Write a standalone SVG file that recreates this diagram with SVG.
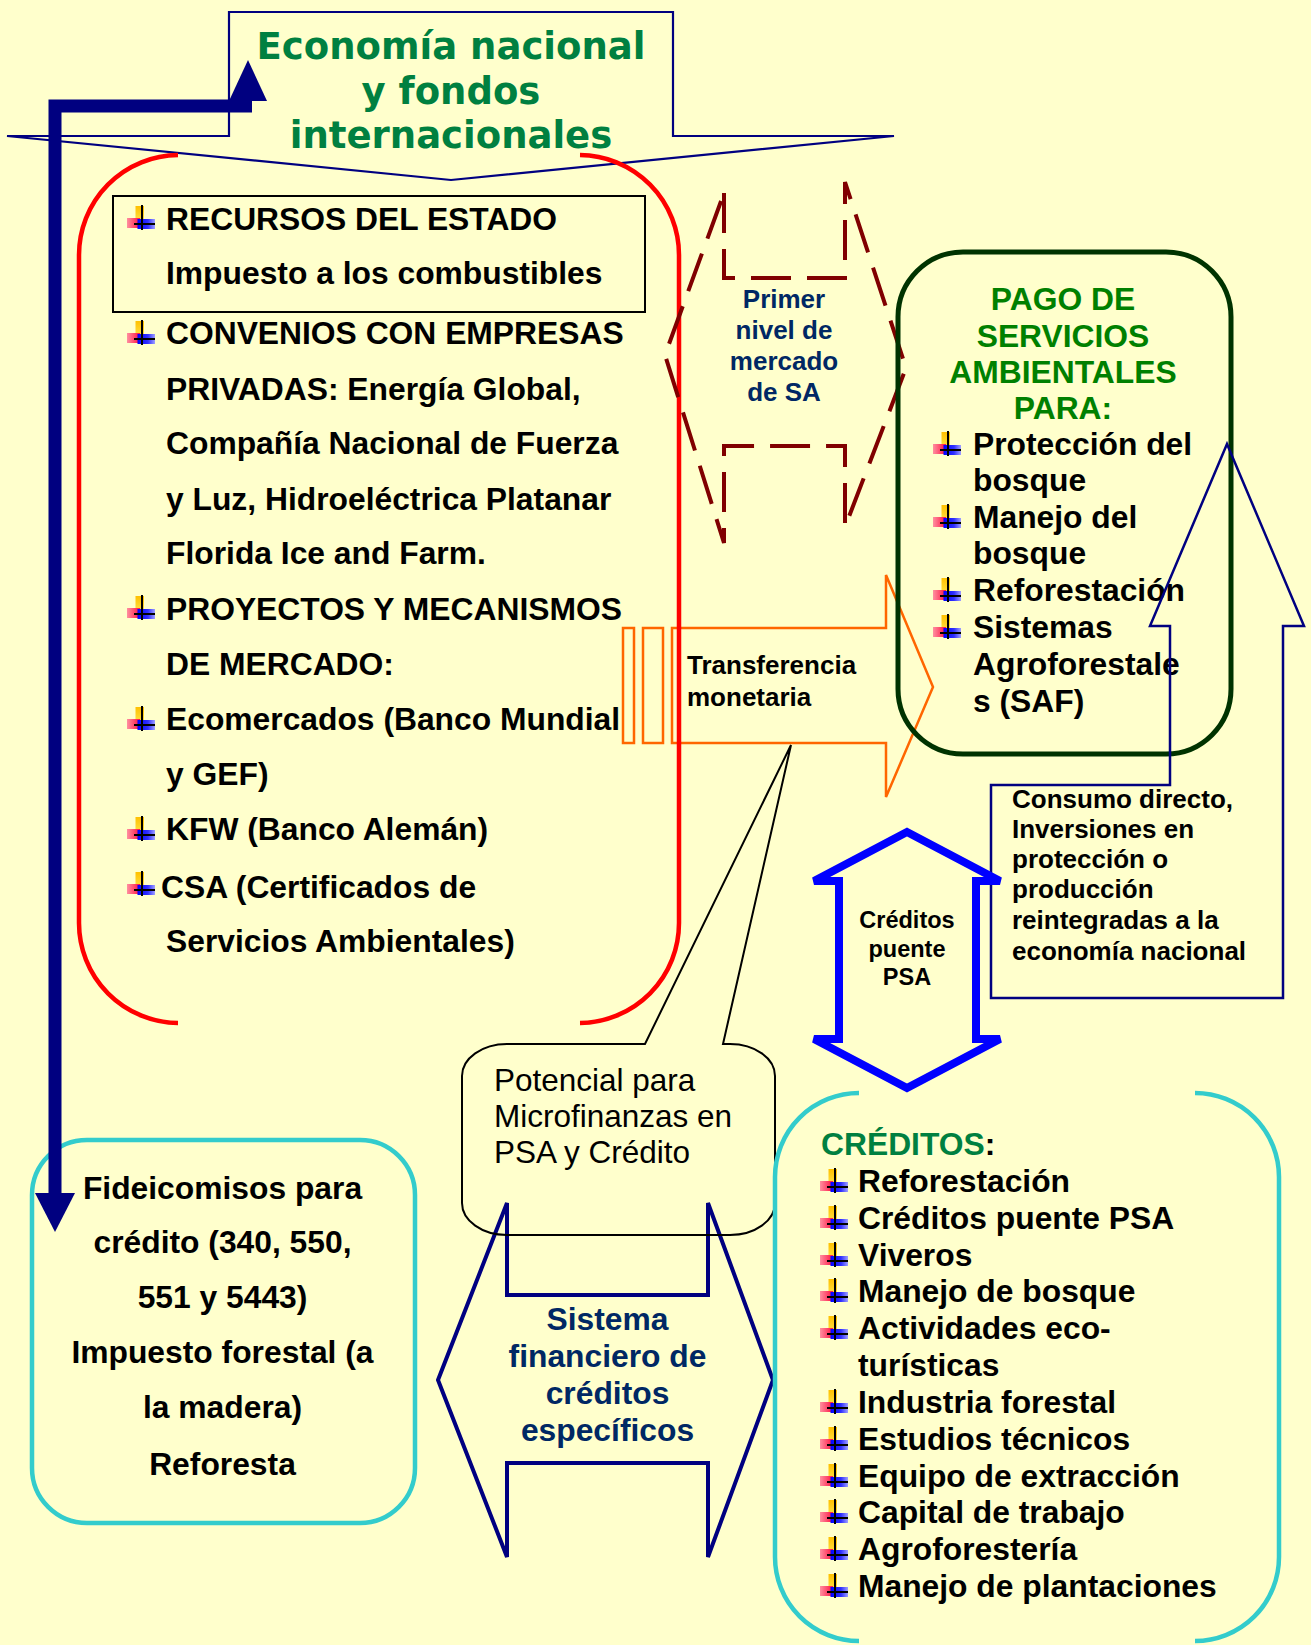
<svg xmlns="http://www.w3.org/2000/svg" xmlns:xlink="http://www.w3.org/1999/xlink" width="1311" height="1645" viewBox="0 0 1311 1645">
<style>
.t{font-family:"Liberation Sans",Arial,sans-serif;font-weight:bold;fill:#000;}
.l{font-size:31.8px;}
.m{font-size:26px;}
.s{font-size:23.5px;}
.c{text-anchor:middle;}
.g{fill:#008000;}
.gt{fill:#008040;}
.nv{fill:#002864;}
.ttl{font-family:"DejaVu Sans",Verdana,sans-serif;font-weight:bold;font-size:37px;fill:#008040;text-anchor:middle;}
.reg{font-family:"Liberation Sans",Arial,sans-serif;font-size:31.5px;fill:#000;}
.cy{fill:none;stroke:#33CCCC;stroke-width:4.5;}
</style>
<defs>
<linearGradient id="gy" x1="0" y1="0" x2="0" y2="1"><stop offset="0" stop-color="#FFC000"/><stop offset="1" stop-color="#FFE040"/></linearGradient>
<linearGradient id="gr" x1="0" y1="0" x2="1" y2="0"><stop offset="0" stop-color="#FF90A0"/><stop offset="1" stop-color="#FF1040"/></linearGradient>
<linearGradient id="gb" x1="0" y1="0" x2="1" y2="0"><stop offset="0" stop-color="#0000FF"/><stop offset="0.6" stop-color="#3030FF"/><stop offset="1" stop-color="#A0A0FF"/></linearGradient>
<g id="bul">
<rect x="8.5" y="1" width="8.5" height="15" fill="url(#gy)"/>
<rect x="0" y="13" width="13" height="10" fill="url(#gr)"/>
<rect x="10.5" y="14" width="17.5" height="10" fill="url(#gb)"/>
<line x1="15" y1="0" x2="15" y2="25" stroke="#000" stroke-width="2"/>
<line x1="7" y1="19" x2="28" y2="19" stroke="#000" stroke-width="2"/>
</g>
</defs>
<rect width="1311" height="1645" fill="#FFFFCC"/>

<g id="banner">
<polygon points="229,12 673,12 673,136 894,136 451,180 7,136 229,136" fill="#FFFFCC" stroke="#000080" stroke-width="2.2"/>
<text class="ttl" x="451" y="59">Economía nacional</text>
<text class="ttl" x="451" y="103.5">y fondos</text>
<text class="ttl" x="451" y="148">internacionales</text>
</g>

<g id="transferencia">
<rect x="623" y="628" width="11" height="115" fill="none" stroke="#FF6600" stroke-width="2.5"/>
<rect x="643" y="628" width="20" height="115" fill="none" stroke="#FF6600" stroke-width="2.5"/>
<polygon points="672,628 886,628 886,575 933,687 886,797 886,743 672,743" fill="none" stroke="#FF6600" stroke-width="2.5"/>
<text class="t m" x="687" y="674">Transferencia</text>
<text class="t m" x="687" y="706">monetaria</text>
</g>

<g id="fuentes">
<path d="M178,155 A100,100 0 0 0 79,255 L79,923 A100,100 0 0 0 178,1023" fill="none" stroke="#FF0000" stroke-width="4.5"/>
<path d="M580,155 A100,100 0 0 1 679,255 L679,923 A100,100 0 0 1 580,1023" fill="none" stroke="#FF0000" stroke-width="4.5"/>
<rect x="113" y="196" width="532" height="116" fill="none" stroke="#000" stroke-width="2"/>
<use xlink:href="#bul" x="127" y="205"/>
<text class="t l" x="166" y="229.5">RECURSOS DEL ESTADO</text>
<text class="t l" x="166" y="284">Impuesto a los combustibles</text>
<use xlink:href="#bul" x="127" y="320"/>
<text class="t l" x="166" y="344">CONVENIOS CON EMPRESAS</text>
<text class="t l" x="166" y="399.5">PRIVADAS: Energía Global,</text>
<text class="t l" x="166" y="454">Compañía Nacional de Fuerza</text>
<text class="t l" x="166" y="509.5">y Luz, Hidroeléctrica Platanar</text>
<text class="t l" x="166" y="564">Florida Ice and Farm.</text>
<use xlink:href="#bul" x="127" y="595"/>
<text class="t l" x="166" y="619.5">PROYECTOS Y MECANISMOS</text>
<text class="t l" x="166" y="674.5">DE MERCADO:</text>
<use xlink:href="#bul" x="127" y="706"/>
<text class="t l" x="166" y="730">Ecomercados (Banco Mundial</text>
<text class="t l" x="166" y="784.5">y GEF)</text>
<use xlink:href="#bul" x="127" y="816"/>
<text class="t l" x="166" y="840">KFW (Banco Alemán)</text>
<use xlink:href="#bul" x="127" y="871"/>
<text class="t l" x="161" y="897.5">CSA (Certificados de</text>
<text class="t l" x="166" y="952">Servicios Ambientales)</text>
</g>

<g id="primer-nivel">
<polygon points="724,193 724,278 845,278 845,182 906,368 845,527 845,446 724,446 724,543 665,355" fill="none" stroke="#800000" stroke-width="4" stroke-dasharray="40 16"/>
<text class="t m c nv" x="784" y="308">Primer</text>
<text class="t m c nv" x="784" y="339">nivel de</text>
<text class="t m c nv" x="784" y="370">mercado</text>
<text class="t m c nv" x="784" y="401">de SA</text>
</g>

<g id="pago">
<rect x="898" y="252" width="333" height="502" rx="65" ry="65" fill="none" stroke="#003300" stroke-width="5"/>
<text class="t l c g" x="1063" y="310">PAGO DE</text>
<text class="t l c g" x="1063" y="346.5">SERVICIOS</text>
<text class="t l c g" x="1063" y="383">AMBIENTALES</text>
<text class="t l c g" x="1063" y="419">PARA:</text>
<use xlink:href="#bul" x="933" y="431"/>
<text class="t l" x="973" y="455">Protección del</text>
<text class="t l" x="973" y="491">bosque</text>
<use xlink:href="#bul" x="933" y="504"/>
<text class="t l" x="973" y="527.5">Manejo del</text>
<text class="t l" x="973" y="564">bosque</text>
<use xlink:href="#bul" x="933" y="577"/>
<text class="t l" x="973" y="601">Reforestación</text>
<use xlink:href="#bul" x="933" y="614"/>
<text class="t l" x="973" y="637.5">Sistemas</text>
<text class="t l" x="973" y="674.5">Agroforestale</text>
<text class="t l" x="973" y="711.5">s (SAF)</text>
</g>

<g id="consumo">
<polygon points="1227,444 1304,626 1283,626 1283,998 991,998 991,785 1170,785 1170,626 1150,626" fill="none" stroke="#000080" stroke-width="2.5"/>
<text class="t m" x="1012" y="807.5">Consumo directo,</text>
<text class="t m" x="1012" y="837.5">Inversiones en</text>
<text class="t m" x="1012" y="868">protección o</text>
<text class="t m" x="1012" y="898">producción</text>
<text class="t m" x="1012" y="929">reintegradas a la</text>
<text class="t m" x="1012" y="959.5">economía nacional</text>
</g>

<g id="creditos-puente">
<polygon points="907,832 1000,881 976,881 976,1039 1000,1039 907,1088 814,1039 839,1039 839,881 814,881" fill="none" stroke="#0000FF" stroke-width="8" stroke-miterlimit="3"/>
<text class="t s c" x="907" y="928">Créditos</text>
<text class="t s c" x="907" y="956.5">puente</text>
<text class="t s c" x="907" y="985">PSA</text>
</g>

<g id="fideicomisos">
<rect x="32" y="1140" width="383" height="383" rx="55" ry="55" class="cy"/>
<text class="t l c" x="222.5" y="1198.5">Fideicomisos para</text>
<text class="t l c" x="222.5" y="1253">crédito (340, 550,</text>
<text class="t l c" x="222.5" y="1308">551 y 5443)</text>
<text class="t l c" x="222.5" y="1363">Impuesto forestal (a</text>
<text class="t l c" x="222.5" y="1418">la madera)</text>
<text class="t l c" x="222.5" y="1474.5">Reforesta</text>
</g>

<g id="sistema">
<polygon points="438,1380 507,1203 507,1295 708,1295 708,1203 773,1380 708,1557 708,1463 507,1463 507,1557" fill="none" stroke="#000080" stroke-width="4"/>
<text class="t l c nv" x="607.5" y="1330">Sistema</text>
<text class="t l c nv" x="607.5" y="1367">financiero de</text>
<text class="t l c nv" x="607.5" y="1403.5">créditos</text>
<text class="t l c nv" x="607.5" y="1441">específicos</text>
</g>

<g id="microfinanzas">
<path d="M462,1076 A45,32 0 0 1 507,1044 L645,1044 L791,745 L723,1044 L730,1044 A45,32 0 0 1 775,1076 L775,1203 A45,32 0 0 1 730,1235 L507,1235 A45,32 0 0 1 462,1203 Z" fill="none" stroke="#000" stroke-width="2"/>
<text class="reg" x="494" y="1090.5">Potencial para</text>
<text class="reg" x="494" y="1126.5">Microfinanzas en</text>
<text class="reg" x="494" y="1162.5">PSA y Crédito</text>
</g>

<g id="creditos">
<path d="M859,1093 A84,84 0 0 0 775,1177 L775,1557 A84,84 0 0 0 859,1641" class="cy"/>
<path d="M1195,1093 A84,84 0 0 1 1279,1177 L1279,1557 A84,84 0 0 1 1195,1641" class="cy"/>
<text class="t l" x="821" y="1154.5"><tspan class="gt">CRÉDITOS</tspan>:</text>
<use xlink:href="#bul" x="820" y="1168"/>
<text class="t l" x="858" y="1192">Reforestación</text>
<use xlink:href="#bul" x="820" y="1205"/>
<text class="t l" x="858" y="1228.5">Créditos puente PSA</text>
<use xlink:href="#bul" x="820" y="1242"/>
<text class="t l" x="858" y="1265.5">Viveros</text>
<use xlink:href="#bul" x="820" y="1278"/>
<text class="t l" x="858" y="1302">Manejo de bosque</text>
<use xlink:href="#bul" x="820" y="1315"/>
<text class="t l" x="858" y="1339">Actividades eco-</text>
<text class="t l" x="858" y="1375.5">turísticas</text>
<use xlink:href="#bul" x="820" y="1389"/>
<text class="t l" x="858" y="1413">Industria forestal</text>
<use xlink:href="#bul" x="820" y="1426"/>
<text class="t l" x="858" y="1450">Estudios técnicos</text>
<use xlink:href="#bul" x="820" y="1463"/>
<text class="t l" x="858" y="1487">Equipo de extracción</text>
<use xlink:href="#bul" x="820" y="1499"/>
<text class="t l" x="858" y="1523">Capital de trabajo</text>
<use xlink:href="#bul" x="820" y="1536"/>
<text class="t l" x="858" y="1560">Agroforestería</text>
<use xlink:href="#bul" x="820" y="1573"/>
<text class="t l" x="858" y="1597">Manejo de plantaciones</text>
</g>

<g id="connectors">
<path d="M55,1195 L55,106 L252,106" fill="none" stroke="#000080" stroke-width="13" stroke-linejoin="miter"/>
<polygon points="229,101 267,101 248,60" fill="#000080"/>
<polygon points="35,1193 75,1193 55,1232" fill="#000080"/>
</g>
</svg>
